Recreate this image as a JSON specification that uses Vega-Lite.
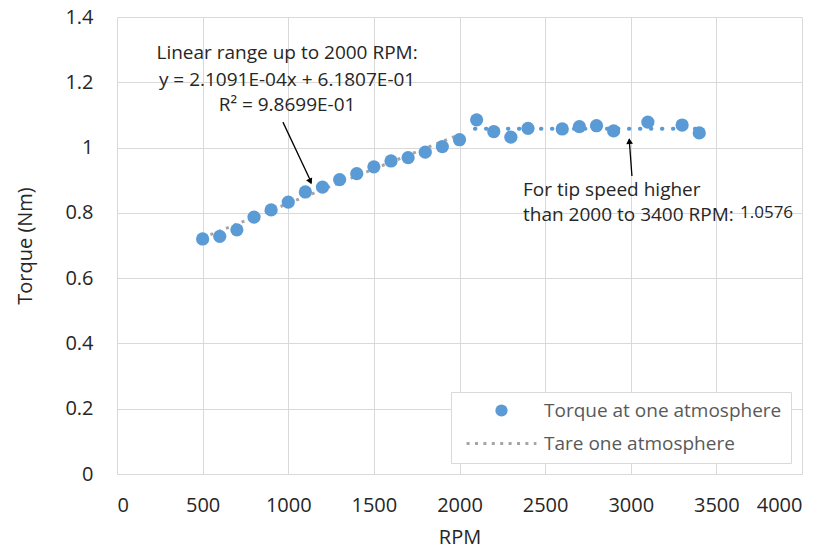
{
  "$schema": "https://vega.github.io/schema/vega-lite/v6.json",
  "width": 685,
  "height": 457,
  "autosize": {"type": "none"},
  "padding": {"left": 117, "top": 17, "right": 30, "bottom": 79},
  "background": "#FFFFFF",
  "config": {
    "view": {"stroke": null},
    "font": "Open Sans",
    "axis": {
      "grid": true, "gridColor": "#D9D9D9", "gridWidth": 1,
      "domain": false, "ticks": false,
      "labelFont": "Open Sans", "labelFontSize": 20, "labelColor": "#262626",
      "titleFont": "Open Sans", "titleFontSize": 20, "titleFontWeight": "normal", "titleColor": "#262626"
    }
  },
  "datasets": {
    "torque": [
      {"rpm": 500, "torque": 0.720, "series": "Torque at one atmosphere"},
      {"rpm": 600, "torque": 0.728, "series": "Torque at one atmosphere"},
      {"rpm": 700, "torque": 0.748, "series": "Torque at one atmosphere"},
      {"rpm": 800, "torque": 0.787, "series": "Torque at one atmosphere"},
      {"rpm": 900, "torque": 0.809, "series": "Torque at one atmosphere"},
      {"rpm": 1000, "torque": 0.833, "series": "Torque at one atmosphere"},
      {"rpm": 1100, "torque": 0.864, "series": "Torque at one atmosphere"},
      {"rpm": 1200, "torque": 0.879, "series": "Torque at one atmosphere"},
      {"rpm": 1300, "torque": 0.902, "series": "Torque at one atmosphere"},
      {"rpm": 1400, "torque": 0.920, "series": "Torque at one atmosphere"},
      {"rpm": 1500, "torque": 0.941, "series": "Torque at one atmosphere"},
      {"rpm": 1600, "torque": 0.959, "series": "Torque at one atmosphere"},
      {"rpm": 1700, "torque": 0.969, "series": "Torque at one atmosphere"},
      {"rpm": 1800, "torque": 0.986, "series": "Torque at one atmosphere"},
      {"rpm": 1900, "torque": 1.003, "series": "Torque at one atmosphere"},
      {"rpm": 2000, "torque": 1.024, "series": "Torque at one atmosphere"},
      {"rpm": 2100, "torque": 1.085, "series": "Torque at one atmosphere"},
      {"rpm": 2200, "torque": 1.049, "series": "Torque at one atmosphere"},
      {"rpm": 2300, "torque": 1.032, "series": "Torque at one atmosphere"},
      {"rpm": 2400, "torque": 1.059, "series": "Torque at one atmosphere"},
      {"rpm": 2600, "torque": 1.057, "series": "Torque at one atmosphere"},
      {"rpm": 2700, "torque": 1.064, "series": "Torque at one atmosphere"},
      {"rpm": 2800, "torque": 1.067, "series": "Torque at one atmosphere"},
      {"rpm": 2900, "torque": 1.051, "series": "Torque at one atmosphere"},
      {"rpm": 3100, "torque": 1.078, "series": "Torque at one atmosphere"},
      {"rpm": 3300, "torque": 1.069, "series": "Torque at one atmosphere"},
      {"rpm": 3400, "torque": 1.045, "series": "Torque at one atmosphere"}
    ],
    "tare": [
      {"rpm": 500, "torque": 0.7235, "series": "Tare one atmosphere"},
      {"rpm": 2000, "torque": 1.0399, "series": "Tare one atmosphere"}
    ],
    "flat": [
      {"rpm": 2090, "torque": 1.0576},
      {"rpm": 3400, "torque": 1.0576}
    ],
    "note1": [
      {"rpm": 993, "torque": 1.290, "text": "Linear range up to 2000 RPM:"},
      {"rpm": 993, "torque": 1.207, "text": "y = 2.1091E-04x + 6.1807E-01"},
      {"rpm": 993, "torque": 1.130, "text": "R² = 9.8699E-01"}
    ],
    "note2": [
      {"rpm": 2371, "torque": 0.870, "text": "For tip speed higher"},
      {"rpm": 2371, "torque": 0.7935, "text": "than 2000 to 3400 RPM:"}
    ],
    "note3": [
      {"rpm": 3638, "torque": 0.800, "text": "1.0576"}
    ],
    "arrow1": [{"rpm": 969, "torque": 1.078, "rpm2": 1135, "torque2": 0.893}],
    "head1": [{"rpm": 1129, "torque": 0.896}],
    "arrow2": [{"rpm": 3007, "torque": 0.913, "rpm2": 2991, "torque2": 1.025}],
    "head2": [{"rpm": 2992, "torque": 1.020}]
  },
  "encoding": {
    "x": {"field": "rpm", "type": "quantitative",
      "scale": {"domain": [0, 4000], "nice": false},
      "axis": {"values": [0, 500, 1000, 1500, 2000, 2500, 3000, 3500, 4000], "format": "d", "title": "RPM", "labelPadding": 21, "titlePadding": 12}},
    "y": {"field": "torque", "type": "quantitative",
      "scale": {"domain": [0, 1.4], "nice": false},
      "axis": {"values": [0, 0.2, 0.4, 0.6, 0.8, 1, 1.2, 1.4], "format": "~g", "title": "Torque (Nm)", "labelPadding": 24, "titlePadding": 29}}
  },
  "layer": [
    {
      "data": {"name": "tare"},
      "mark": {"type": "line", "strokeWidth": 3, "strokeDash": [3, 5.4]},
      "encoding": {
        "color": {"field": "series", "type": "nominal",
          "scale": {"domain": ["Torque at one atmosphere", "Tare one atmosphere"], "range": ["#5B9BD5", "#A5A5A5"]},
          "legend": {
            "title": null, "orient": "bottom-right", "offset": 11,
            "fillColor": "#FFFFFF", "strokeColor": "#D9D9D9", "padding": 9,
            "labelFont": "Open Sans", "labelFontSize": 19, "labelColor": "#595959", "labelLimit": 400,
            "symbolSize": 150, "symbolOffset": 32, "labelOffset": 33, "rowPadding": 13,
            "encode": {"symbols": {"update": {
              "shape": {"signal": "datum.value === 'Tare one atmosphere' ? 'M-5.7,0H5.7' : 'circle'"},
              "fill": {"signal": "datum.value === 'Tare one atmosphere' ? 'transparent' : '#5B9BD5'"},
              "stroke": {"signal": "datum.value === 'Tare one atmosphere' ? '#A5A5A5' : 'transparent'"},
              "strokeWidth": {"signal": "datum.value === 'Tare one atmosphere' ? 3 : 0"},
              "strokeDash": {"signal": "datum.value === 'Tare one atmosphere' ? [3, 5.4] : [1, 0]"},
              "opacity": {"value": 1}
            }}}
          }}
      }
    },
    {
      "data": {"name": "flat"},
      "mark": {"type": "line", "strokeWidth": 4, "strokeDash": [0.5, 10.5], "strokeCap": "round", "color": "#5B9BD5"},
      "encoding": {}
    },
    {
      "data": {"name": "torque"},
      "mark": {"type": "point", "filled": true, "size": 175, "opacity": 1},
      "encoding": {
        "color": {"field": "series", "type": "nominal"}
      }
    },
    {
      "data": {"name": "arrow1"},
      "mark": {"type": "rule", "color": "#000000", "strokeWidth": 1.3},
      "encoding": {"x2": {"field": "rpm2"}, "y2": {"field": "torque2"}}
    },
    {
      "data": {"name": "head1"},
      "mark": {"type": "point", "shape": "triangle-up", "filled": true, "color": "#000000", "size": 45, "angle": 155, "opacity": 1},
      "encoding": {}
    },
    {
      "data": {"name": "arrow2"},
      "mark": {"type": "rule", "color": "#000000", "strokeWidth": 1.3},
      "encoding": {"x2": {"field": "rpm2"}, "y2": {"field": "torque2"}}
    },
    {
      "data": {"name": "head2"},
      "mark": {"type": "point", "shape": "triangle-up", "filled": true, "color": "#000000", "size": 45, "angle": 356, "opacity": 1},
      "encoding": {}
    },
    {
      "data": {"name": "note1"},
      "mark": {"type": "text", "align": "center", "baseline": "middle", "fontSize": 19, "font": "Open Sans", "color": "#262626"},
      "encoding": {"text": {"field": "text"}}
    },
    {
      "data": {"name": "note2"},
      "mark": {"type": "text", "align": "left", "baseline": "middle", "fontSize": 19, "font": "Open Sans", "color": "#262626"},
      "encoding": {"text": {"field": "text"}}
    },
    {
      "data": {"name": "note3"},
      "mark": {"type": "text", "align": "left", "baseline": "middle", "fontSize": 17, "font": "Open Sans", "color": "#262626"},
      "encoding": {"text": {"field": "text"}}
    }
  ]
}
